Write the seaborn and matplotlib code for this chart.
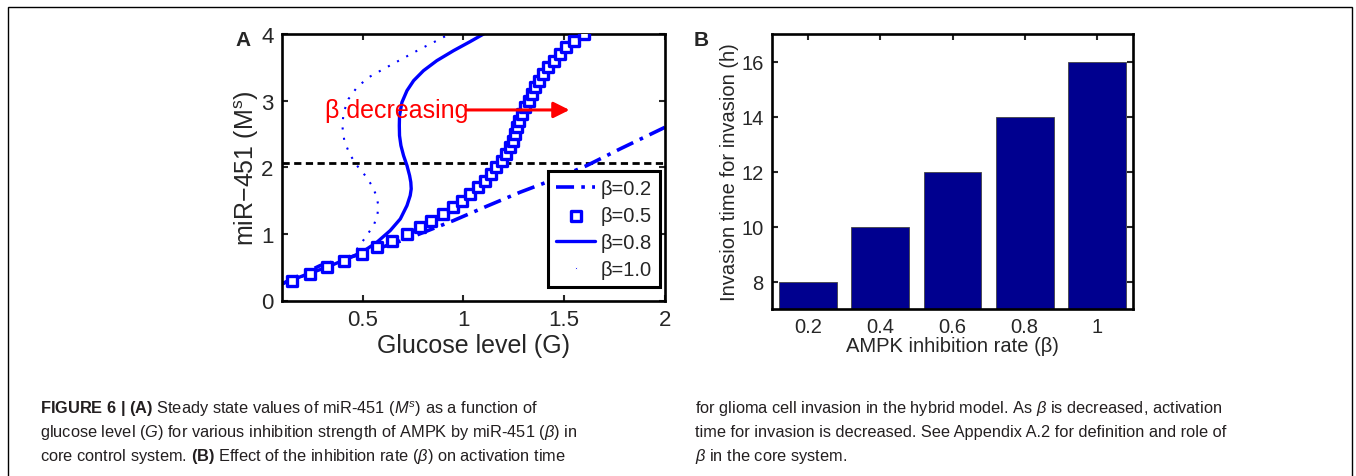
import matplotlib
matplotlib.use("Agg")
import matplotlib.pyplot as plt
import matplotlib.patches as patches
import seaborn as sns
import pandas as pd

# ---- panel A: steady state miR-451 vs glucose ----
g_b02 = [0.100, 0.290, 0.497, 0.720, 0.951, 1.116, 1.281, 1.447, 1.612, 1.777, 2.000]
m_b02 = [0.250, 0.525, 0.700, 0.925, 1.200, 1.415, 1.625, 1.815, 2.025, 2.275, 2.600]

m_b05 = [0.3, 0.4, 0.5, 0.6, 0.7, 0.8, 0.9, 1.0, 1.1, 1.2, 1.3, 1.4, 1.5, 1.6,
         1.7, 1.8, 1.9, 2.0, 2.1, 2.2, 2.3, 2.4, 2.5, 2.6, 2.7, 2.8, 2.9, 3.0,
         3.1, 3.2, 3.3, 3.4, 3.5, 3.6, 3.7, 3.8, 3.9, 4.0]
g_b05 = [0.150, 0.240, 0.323, 0.409, 0.497, 0.571, 0.645, 0.720, 0.783, 0.838,
         0.898, 0.947, 0.992, 1.034, 1.071, 1.105, 1.136, 1.162, 1.190, 1.212,
         1.229, 1.245, 1.257, 1.268, 1.278, 1.290, 1.306, 1.323, 1.339, 1.356,
         1.377, 1.397, 1.422, 1.447, 1.477, 1.510, 1.550, 1.600]

g_b08 = [0.100, 0.207, 0.323, 0.414, 0.497, 0.571, 0.637, 0.687, 0.720, 0.736,
         0.741, 0.739, 0.733, 0.720, 0.703, 0.690, 0.683, 0.682, 0.683, 0.695,
         0.720, 0.753, 0.802, 0.868, 0.951, 1.033, 1.100]
m_b08 = [0.250, 0.375, 0.500, 0.615, 0.725, 0.875, 1.050, 1.225, 1.425, 1.575,
         1.675, 1.775, 1.875, 2.025, 2.175, 2.325, 2.475, 2.625, 2.775, 2.975,
         3.150, 3.300, 3.450, 3.600, 3.750, 3.885, 4.000]

g_b10 = [0.100, 0.207, 0.323, 0.414, 0.472, 0.521, 0.558, 0.574, 0.578, 0.568,
         0.546, 0.513, 0.472, 0.435, 0.409, 0.399, 0.406, 0.430, 0.472, 0.530,
         0.604, 0.695, 0.786, 0.868, 0.931]
m_b10 = [0.250, 0.365, 0.485, 0.600, 0.775, 0.975, 1.150, 1.300, 1.425, 1.575,
         1.725, 1.875, 2.025, 2.200, 2.400, 2.625, 2.825, 3.025, 3.200, 3.350,
         3.475, 3.625, 3.775, 3.900, 4.000]

threshold = 2.07

# ---- panel B: invasion time vs AMPK inhibition rate ----
rates = [0.2, 0.4, 0.6, 0.8, 1.0]
rate_labels = ["0.2", "0.4", "0.6", "0.8", "1"]
inv_time = [8, 10, 12, 14, 16]

caption_left = [
    r"$\bf{FIGURE\ 6\ |\ (A)}$ Steady state values of miR-451 ($M^s$) as a function of",
    r"glucose level ($G$) for various inhibition strength of AMPK by miR-451 ($\beta$) in",
    r"core control system. $\bf{(B)}$ Effect of the inhibition rate ($\beta$) on activation time",
]
caption_right = [
    r"for glioma cell invasion in the hybrid model. As $\beta$ is decreased, activation",
    r"time for invasion is decreased. See Appendix A.2 for definition and role of",
    r"$\beta$ in the core system.",
]

sns.set_style("white")
plt.rcParams["font.family"] = ["Liberation Sans", "DejaVu Sans"]
plt.rcParams["mathtext.fontset"] = "custom"
plt.rcParams["mathtext.rm"] = "Liberation Sans"
plt.rcParams["mathtext.it"] = "Liberation Sans:italic"
plt.rcParams["mathtext.bf"] = "Liberation Sans:bold"

BLUE = "#0000ff"
NAVY = "#00008f"

fig = plt.figure(figsize=(13.56, 4.77), dpi=100, facecolor="white")
W, H = 1356, 477
axA = fig.add_axes([282 / W, 1 - 301.5 / H, 383 / W, 266.5 / H])
axB = fig.add_axes([772 / W, 1 - 310 / H, 361 / W, 275 / H])

# panel A curves
sns.lineplot(x=g_b02, y=m_b02, sort=False, estimator=None, ax=axA, color=BLUE,
             lw=2.6, linestyle=(0, (5, 2, 1, 2)), label="β=0.2")
sns.scatterplot(x=g_b05, y=m_b05, ax=axA, marker="s", s=42, color="white",
                edgecolor=BLUE, linewidth=2.4, label="β=0.5", zorder=3)
sns.lineplot(x=g_b08, y=m_b08, sort=False, estimator=None, ax=axA, color=BLUE,
             lw=2.4, label="β=0.8")
sns.lineplot(x=g_b10, y=m_b10, sort=False, estimator=None, ax=axA, color=BLUE,
             lw=1.5, linestyle=(0, (1, 4)), label="β=1.0")
axA.axhline(threshold, color="black", lw=2.0, linestyle=(0, (2.6, 1.6)), zorder=1)

axA.text(0.315, 2.86, "β decreasing", color="red", fontsize=18, va="center", ha="left")
axA.annotate("", xy=(1.54, 2.86), xytext=(1.0, 2.86),
             arrowprops=dict(arrowstyle="-|>", color="red", lw=2.2, mutation_scale=24))

axA.set_xlim(0.1, 2.0)
axA.set_ylim(0, 4)
axA.set_xticks([0.5, 1.0, 1.5, 2.0])
axA.set_xticklabels(["0.5", "1", "1.5", "2"])
axA.set_yticks([0, 1, 2, 3, 4])
axA.set_xlabel("Glucose level (G)", fontsize=18, labelpad=2)
axA.set_ylabel(r"miR$-$451 (M$^\mathregular{s}$)", fontsize=18, labelpad=0)
axA.tick_params(labelsize=16, direction="in", length=4, width=1.5,
                top=True, right=True, bottom=True, left=True, pad=6)

leg = axA.legend(loc="lower right", bbox_to_anchor=(0.987, 0.05), borderaxespad=0,
                 fontsize=14.5, frameon=True, fancybox=False, edgecolor="black",
                 framealpha=1, handlelength=1.9, handletextpad=0.3,
                 labelspacing=0.4, borderpad=0.4)
leg.get_frame().set_linewidth(2.2)
# matlab shows the dotted entry as a single dot
dot = leg.legend_handles[3]
dot.set_linestyle("None")
dot.set_marker(".")
dot.set_markersize(3)

# panel B bars
df_b = pd.DataFrame({"rate": rates, "time": inv_time})
sns.barplot(data=df_b, x="rate", y="time", native_scale=True, color=NAVY,
            saturation=1, width=0.8, edgecolor="#444444", linewidth=0.6, ax=axB)
axB.set_xlim(0.1, 1.1)
axB.set_ylim(7, 17)
axB.set_xticks(rates)
axB.set_xticklabels(rate_labels)
axB.set_yticks([8, 10, 12, 14, 16])
axB.set_xlabel("AMPK inhibition rate (β)", fontsize=14.5, labelpad=0)
axB.set_ylabel("Invasion time for invasion (h)", fontsize=14.5, labelpad=2)
axB.tick_params(labelsize=14.5, direction="in", length=4, width=1.5,
                top=True, right=True, bottom=True, left=True, pad=6)

for ax in (axA, axB):
    for sp in ax.spines.values():
        sp.set_visible(True)
        sp.set_linewidth(1.9)
        sp.set_color("black")

fig.text(243 / W, 1 - 41 / H, "A", fontsize=15, fontweight="bold", ha="center", va="center")
fig.text(701 / W, 1 - 41 / H, "B", fontsize=15, fontweight="bold", ha="center", va="center")

# caption
for i, line in enumerate(caption_left):
    fig.text(40 / W, 1 - (409 + 24 * i) / H, line, fontsize=11.8, color="#231f20",
             va="center", ha="left")
for i, line in enumerate(caption_right):
    fig.text(695 / W, 1 - (409 + 24 * i) / H, line, fontsize=11.8, color="#231f20",
             va="center", ha="left")

frame = patches.Rectangle((8 / W, -0.1), 1344 / W, 1 - 8 / H + 0.1, transform=fig.transFigure,
                          fill=False, edgecolor="black", lw=1.0)
fig.patches.append(frame)

fig.savefig("out.png", dpi=100, facecolor="white")
